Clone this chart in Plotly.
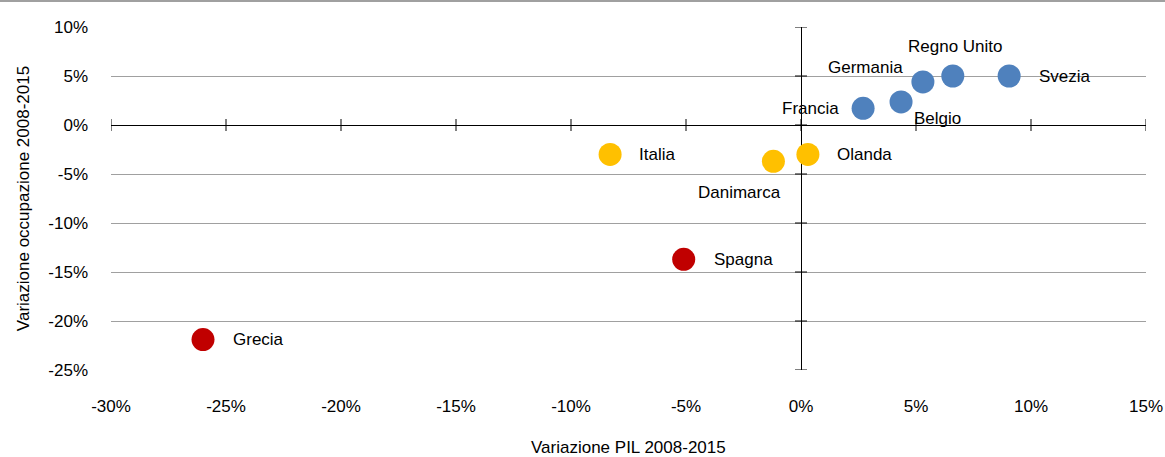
import plotly.graph_objects as go

# Data
countries = ["Grecia", "Spagna", "Italia", "Danimarca", "Olanda",
             "Francia", "Belgio", "Germania", "Regno Unito", "Svezia"]
gdp_change = [-26.0, -5.1, -8.3, -1.2, 0.3, 2.7, 4.35, 5.3, 6.6, 9.05]   # % PIL 2008-2015
emp_change = [-21.9, -13.7, -3.0, -3.7, -3.0, 1.7, 2.35, 4.4, 5.0, 5.0]  # % occupazione 2008-2015
groups = ["red", "red", "yellow", "yellow", "yellow",
          "blue", "blue", "blue", "blue", "blue"]
group_colors = {"red": "#C00000", "yellow": "#FFC000", "blue": "#4F81BD"}

x_ticks = [-30, -25, -20, -15, -10, -5, 0, 5, 10, 15]
y_ticks = [-25, -20, -15, -10, -5, 0, 5, 10]
x_tick_labels = [f"{v}%" for v in x_ticks]
y_tick_labels = [f"{v}%" for v in y_ticks]
x_title = "Variazione PIL 2008-2015"
y_title = "Variazione occupazione 2008-2015"

# label placement style: (xanchor, yanchor, xshift, yshift)
label_pos = {
    "Grecia": ("left", "middle", 28, 0),
    "Spagna": ("left", "middle", 28, 0),
    "Italia": ("left", "middle", 27, 0),
    "Danimarca": ("center", "middle", -34, -31),
    "Olanda": ("left", "middle", 27, 0),
    "Francia": ("right", "middle", -22, 0),
    "Belgio": ("center", "middle", 36, -17),
    "Germania": ("center", "middle", -57, 14),
    "Regno Unito": ("center", "middle", 3, 30),
    "Svezia": ("left", "middle", 28, 0),
}

FONT = "Liberation Sans, Arial, sans-serif"
FS = 17

fig = go.Figure()
fig.add_trace(go.Scatter(
    x=gdp_change, y=emp_change, mode="markers",
    marker=dict(size=23, color=[group_colors[g] for g in groups], line=dict(width=0)),
    hovertext=countries, showlegend=False,
))

for c, xv, yv in zip(countries, gdp_change, emp_change):
    xa, ya, xs, ys = label_pos[c]
    fig.add_annotation(x=xv, y=yv, text=c, showarrow=False,
                       xanchor=xa, yanchor=ya, xshift=xs, yshift=ys,
                       font=dict(family=FONT, size=FS, color="#000000"))

# x axis title (placed below the tick labels)
fig.add_annotation(xref="paper", yref="paper", x=0.5, y=0, yanchor="middle",
                   yshift=-77, text=x_title, showarrow=False,
                   font=dict(family=FONT, size=FS, color="#000000"))

shapes = []
# tick marks crossing the horizontal axis at y=0
for t in x_ticks:
    shapes.append(dict(type="line", xref="x", yref="y", x0=t, x1=t,
                       ysizemode="pixel", yanchor=0, y0=-6, y1=6,
                       line=dict(color="#000000", width=1)))
# tick marks crossing the vertical axis at x=0
for t in y_ticks:
    shapes.append(dict(type="line", xref="x", yref="y", y0=t, y1=t,
                       xsizemode="pixel", xanchor=0, x0=-6, x1=6,
                       line=dict(color="#000000", width=1)))
# top border of the chart frame
shapes.append(dict(type="line", xref="paper", yref="paper",
                   x0=-111 / 1035, x1=1 + 19 / 1035, y0=1 + 26 / 343, y1=1 + 26 / 343,
                   line=dict(color="#808080", width=1.5)))

fig.update_layout(
    width=1165, height=457,
    margin=dict(l=111, r=19, t=27, b=87, autoexpand=False),
    paper_bgcolor="white", plot_bgcolor="white",
    font=dict(family=FONT, size=FS, color="#000000"),
    shapes=shapes,
    xaxis=dict(range=[-30, 15], tickvals=x_ticks, ticktext=x_tick_labels,
               automargin=False,
               showgrid=False, zeroline=True, zerolinecolor="#000000", zerolinewidth=1,
               showline=False, ticks="", ticklabelstandoff=24,
               tickfont=dict(family=FONT, size=FS)),
    yaxis=dict(range=[-25, 10], tickvals=y_ticks, ticktext=y_tick_labels,
               automargin=False,
               showgrid=True, gridcolor="#A0A0A0", gridwidth=1,
               zeroline=True, zerolinecolor="#000000", zerolinewidth=1,
               showline=False, ticks="", ticklabelstandoff=22,
               tickfont=dict(family=FONT, size=FS),
               title=dict(text=y_title, standoff=14,
                          font=dict(family=FONT, size=FS))),
)

fig.write_html("out.html",
               config={"displayModeBar": False},
               post_script="document.body.style.margin='0';document.body.style.overflow='hidden';")
